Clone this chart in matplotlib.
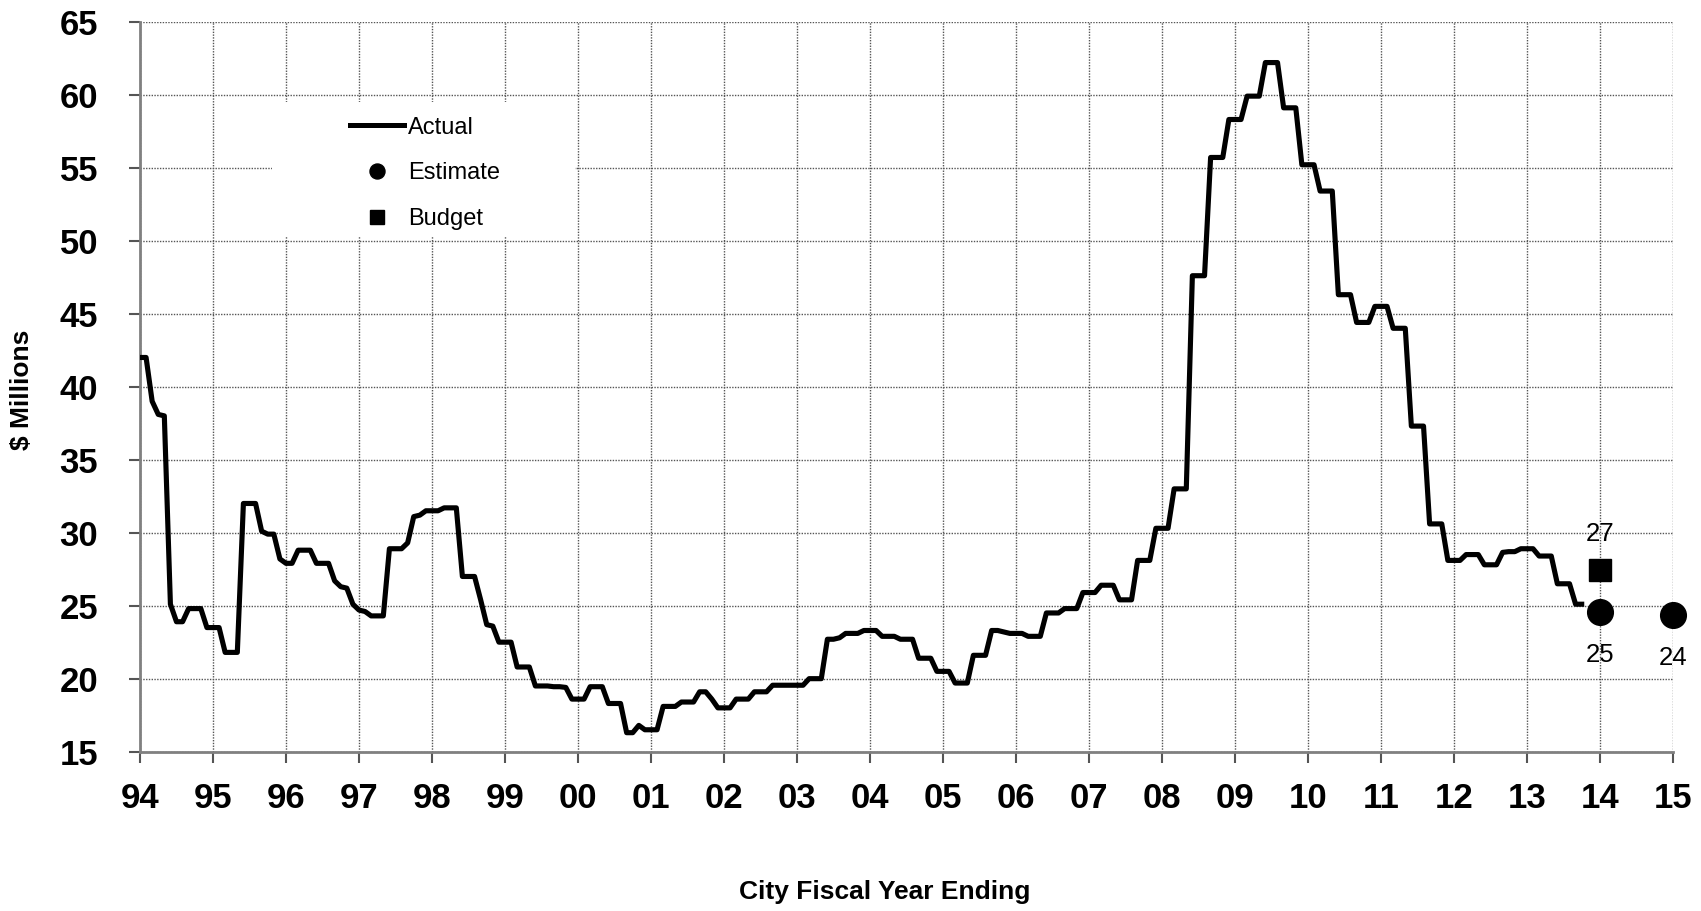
import numpy as np
import matplotlib
matplotlib.use("Agg")
import matplotlib.pyplot as plt
from matplotlib.lines import Line2D
from matplotlib.patches import Rectangle

plt.rcParams['font.family'] = ['Liberation Sans', 'DejaVu Sans']

# monthly actuals, $ millions, starting at the start of FY94
first_year = 1994
actual = [
    42.0, 42.0, 39.0, 38.1, 38.0, 25.1, 23.9, 23.9, 24.8, 24.8, 24.8, 23.5,   # 94
    23.5, 23.5, 21.8, 21.8, 21.8, 32.0, 32.0, 32.0, 30.1, 29.9, 29.9, 28.2,   # 95
    27.9, 27.9, 28.8, 28.8, 28.8, 27.9, 27.9, 27.9, 26.7, 26.3, 26.2, 25.1,   # 96
    24.7, 24.6, 24.3, 24.3, 24.3, 28.9, 28.9, 28.9, 29.3, 31.1, 31.2, 31.5,   # 97
    31.5, 31.5, 31.7, 31.7, 31.7, 27.0, 27.0, 27.0, 25.4, 23.7, 23.6, 22.5,   # 98
    22.5, 22.5, 20.8, 20.8, 20.8, 19.5, 19.5, 19.5, 19.45, 19.45, 19.4, 18.6, # 99
    18.6, 18.6, 19.45, 19.45, 19.45, 18.3, 18.3, 18.3, 16.3, 16.3, 16.8, 16.5, # 00
    16.5, 16.5, 18.1, 18.1, 18.1, 18.4, 18.4, 18.4, 19.1, 19.1, 18.6, 18.0,   # 01
    18.0, 18.0, 18.6, 18.6, 18.6, 19.1, 19.1, 19.1, 19.55, 19.55, 19.55, 19.55, # 02
    19.55, 19.55, 20.0, 20.0, 20.0, 22.7, 22.7, 22.8, 23.1, 23.1, 23.1, 23.3, # 03
    23.3, 23.3, 22.9, 22.9, 22.9, 22.7, 22.7, 22.7, 21.4, 21.4, 21.4, 20.5,   # 04
    20.5, 20.5, 19.7, 19.7, 19.7, 21.6, 21.6, 21.6, 23.3, 23.3, 23.2, 23.1,   # 05
    23.1, 23.1, 22.9, 22.9, 22.9, 24.5, 24.5, 24.5, 24.8, 24.8, 24.8, 25.9,   # 06
    25.9, 25.9, 26.4, 26.4, 26.4, 25.4, 25.4, 25.4, 28.1, 28.1, 28.1, 30.3,   # 07
    30.3, 30.3, 33.0, 33.0, 33.0, 47.6, 47.6, 47.6, 55.7, 55.7, 55.7, 58.3,   # 08
    58.3, 58.3, 59.9, 59.9, 59.9, 62.2, 62.2, 62.2, 59.1, 59.1, 59.1, 55.2,   # 09
    55.2, 55.2, 53.4, 53.4, 53.4, 46.3, 46.3, 46.3, 44.4, 44.4, 44.4, 45.5,   # 10
    45.5, 45.5, 44.0, 44.0, 44.0, 37.3, 37.3, 37.3, 30.6, 30.6, 30.6, 28.1,   # 11
    28.1, 28.1, 28.5, 28.5, 28.5, 27.8, 27.8, 27.8, 28.65, 28.7, 28.7, 28.9,  # 12
    28.9, 28.9, 28.4, 28.4, 28.4, 26.5, 26.5, 26.5, 25.1, 25.1,               # 13
]

estimate_years = [2014, 2015]
estimate = [24.55, 24.35]
budget_years = [2014]
budget = [27.45]

tick_years = list(range(1994, 2016))
year_labels = ['94', '95', '96', '97', '98', '99', '00', '01', '02', '03', '04',
               '05', '06', '07', '08', '09', '10', '11', '12', '13', '14', '15']
y_ticks = [15, 20, 25, 30, 35, 40, 45, 50, 55, 60, 65]

x = first_year + np.arange(len(actual)) / 12.0

fig, ax = plt.subplots(figsize=(17.01, 9.11), dpi=100)
fig.subplots_adjust(left=0.0823, right=0.9835, top=0.9762, bottom=0.1749)

ax.plot(x, actual, color='black', lw=3.7, zorder=3)
ax.plot(estimate_years, estimate, ls='none', marker='o', ms=18.5,
        color='black', zorder=4, clip_on=False)
ax.plot(budget_years, budget, ls='none', marker='s', ms=15.4,
        color='black', zorder=4, clip_on=False)

for xv, yv in zip(estimate_years, estimate):
    ax.annotate(f"{yv:.0f}", (xv, yv), xytext=(0, -31), textcoords='offset points',
                ha='center', va='center', fontsize=18.5, annotation_clip=False)
for xv, yv in zip(budget_years, budget):
    ax.annotate(f"{yv:.0f}", (xv, yv), xytext=(0, 25.5), textcoords='offset points',
                ha='center', va='center', fontsize=18.5, annotation_clip=False)

ax.set_xlim(1994, 2015)
ax.set_ylim(15, 65)
ax.set_xticks(tick_years)
ax.set_xticklabels(year_labels)
ax.set_yticks(y_ticks)

ax.set_axisbelow(True)
ax.grid(True, color='#555555', ls=(0, (1, 1)), lw=1.0)
for side in ['top', 'right']:
    ax.spines[side].set_visible(False)
for side in ['left', 'bottom']:
    ax.spines[side].set_color('#808080')
    ax.spines[side].set_linewidth(2)

ax.tick_params(axis='both', direction='out', color='#555555', width=1.5, length=8)
ax.tick_params(axis='x', labelsize=25, pad=14)
ax.tick_params(axis='y', labelsize=25, pad=22)
for lab in ax.get_xticklabels() + ax.get_yticklabels():
    lab.set_fontweight('bold')

ax.set_ylabel('$ Millions', fontsize=19, fontweight='bold', va='center')
ax.yaxis.set_label_coords(-0.0772, 0.4955)
ax.set_xlabel('City Fiscal Year Ending', fontsize=19, fontweight='bold', va='center')
ax.xaxis.set_label_coords(0.486, -0.192)

# white box behind legend hides the grid there
ax.add_patch(Rectangle((0.0861, 0.705), 0.1977, 0.185, transform=ax.transAxes,
                       facecolor='white', edgecolor='none', zorder=1))

handles = [
    Line2D([], [], color='black', lw=3.6),
    Line2D([], [], ls='none', marker='o', ms=10.8, color='black'),
    Line2D([], [], ls='none', marker='s', ms=9.6, color='black'),
]
ax.legend(handles, ['Actual', 'Estimate', 'Budget'], loc='upper left',
          bbox_to_anchor=(0.137, 0.870), frameon=False, fontsize=17,
          borderpad=0, borderaxespad=0, handlelength=2.29, handletextpad=0.17,
          labelspacing=1.01)

fig.savefig('out.png', dpi=100)
